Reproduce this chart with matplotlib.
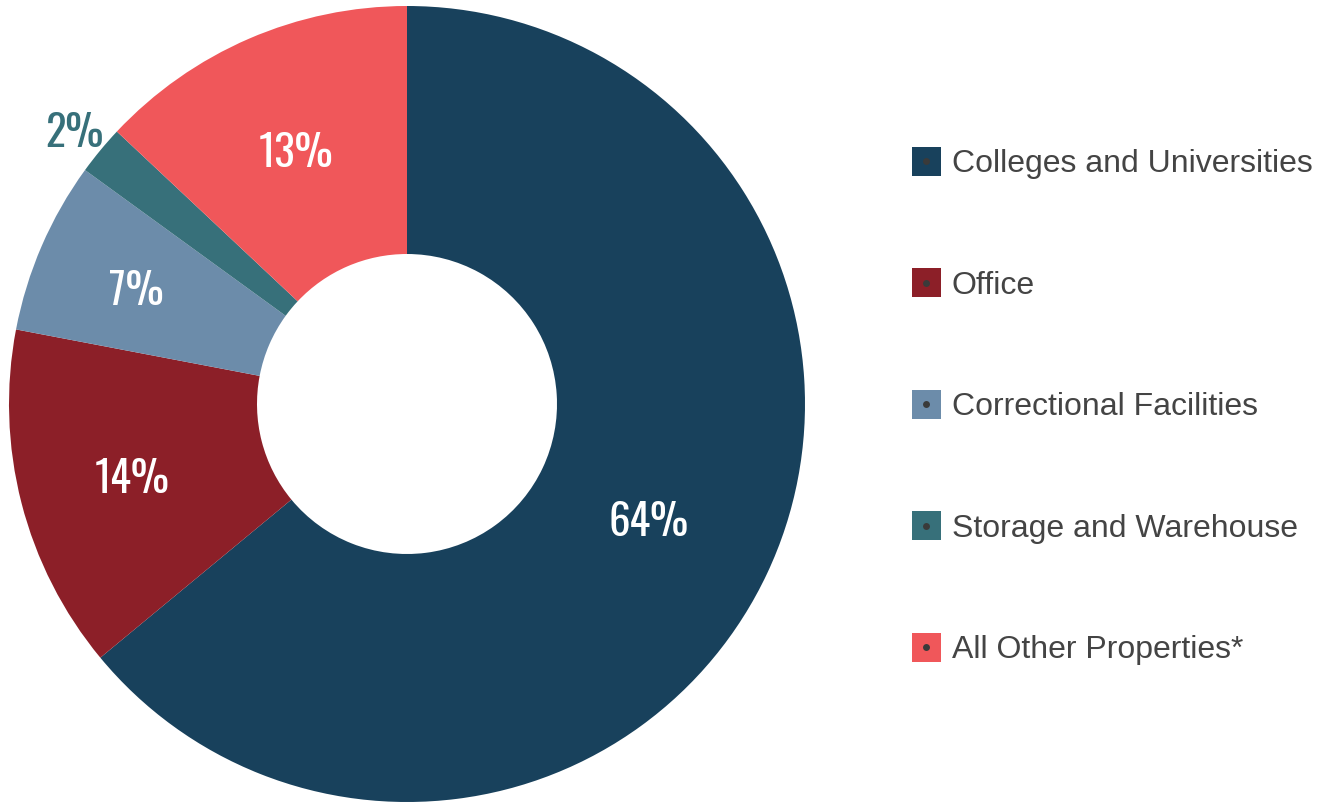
import numpy as np
import matplotlib
matplotlib.use("Agg")
import matplotlib.pyplot as plt
from matplotlib.patches import Rectangle
from matplotlib import font_manager as fm
from matplotlib.font_manager import FontProperties
from matplotlib.textpath import TextPath

categories = ["Colleges and Universities", "Office", "Correctional Facilities",
              "Storage and Warehouse", "All Other Properties*"]
values = [64, 14, 7, 2, 13]
colors = ["#18415C", "#8C1F28", "#6C8CAA", "#37707A", "#F0575A"]
label_radius = [0.672, 0.713, 0.741, 1.085, 0.700]
label_colors = ["white", "white", "white", "#37707A", "white"]

available = {f.name for f in fm.fontManager.ttflist}
num_family = next((f for f in ["Oswald", "Fjalla One", "Bebas Neue", "Roboto Condensed",
                               "Pathway Gothic One", "Antonio", "DejaVu Sans"]
                   if f in available), "DejaVu Sans")

# size the number font so digit height is ~35 px
base_size = 30
fp = FontProperties(family=num_family, size=base_size, weight=600)
ext = TextPath((0, 0), "0123456789", prop=fp).get_extents()
cap_px = ext.y1 * 100 / 72
num_size = base_size * 35 / cap_px if cap_px > 0 else base_size
cap_px_final = 35.0

W, H = 1323, 804
fig = plt.figure(figsize=(W / 100, H / 100), dpi=100)
fig.patch.set_facecolor("white")
ax = fig.add_axes([0, 0, 1, 1])
ax.set_aspect("equal")
ax.axis("off")

cx, cy, R = 407, H - 405, 398
wedges, _ = ax.pie(values, colors=colors, startangle=90, counterclock=False,
                   radius=R, center=(cx, cy),
                   wedgeprops=dict(width=R - 150, edgecolor="none", linewidth=0))
ax.set_xlim(0, W)
ax.set_ylim(0, H)

for w, v, rf, lc in zip(wedges, values, label_radius, label_colors):
    mid = np.deg2rad((w.theta1 + w.theta2) / 2)
    x = cx + rf * R * np.cos(mid)
    y = cy + rf * R * np.sin(mid)
    ax.text(x, y - cap_px_final / 2, f"{v}%", ha="center", va="baseline", color=lc,
            fontsize=num_size, family=[num_family, "DejaVu Sans"], fontweight=600)

# legend
lx, ly0, step, sq = 912, H - 162, 121.5, 29
for i, (cat, col) in enumerate(zip(categories, colors)):
    y = ly0 - i * step
    ax.add_patch(Rectangle((lx, y - sq / 2), sq, sq, facecolor=col, edgecolor="none"))
    ax.plot([lx + sq / 2], [y], marker="o", markersize=5, color="#3a3a3a", markeredgewidth=0)
    ax.text(lx + sq + 11, y - 2, cat, ha="left", va="center", color="#444444", fontsize=23,
            family=["Liberation Sans", "DejaVu Sans"])

fig.savefig("out.png", dpi=100, facecolor="white")
